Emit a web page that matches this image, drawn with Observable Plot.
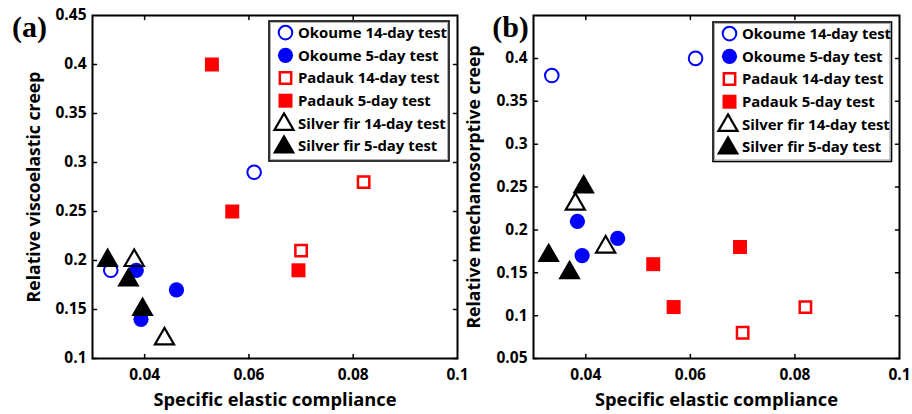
<!DOCTYPE html>
<html>
<head>
<meta charset="utf-8">
<script src="https://cdn.jsdelivr.net/npm/d3@7"></script>
<script src="https://cdn.jsdelivr.net/npm/@observablehq/plot@0.6"></script>
<style>
  html, body { margin: 0; padding: 0; background: white; }
  #wrap { position: relative; width: 912px; height: 414px; overflow: hidden; background: white; }
  #wrap > svg, #wrap > div { position: absolute; top: 0; }
</style>
</head>
<body>
<div id="wrap"></div>
<script>
// ---- Data ----
const seriesNames = ["Okoume 14-day test", "Okoume 5-day test", "Padauk 14-day test",
                     "Padauk 5-day test", "Silver fir 14-day test", "Silver fir 5-day test"];

const okoume14X = [0.0335, 0.061];
const okoume14Visco = [0.19, 0.29];
const okoume14Mecha = [0.38, 0.40];

const okoume5X = [0.0384, 0.0393, 0.0461];
const okoume5Visco = [0.19, 0.14, 0.17];
const okoume5Mecha = [0.21, 0.17, 0.19];

const padauk14X = [0.070, 0.082];
const padauk14Visco = [0.21, 0.28];
const padauk14Mecha = [0.08, 0.11];

const padauk5X = [0.0529, 0.0568, 0.0695];
const padauk5Visco = [0.40, 0.25, 0.19];
const padauk5Mecha = [0.16, 0.11, 0.18];

const silver14X = [0.038, 0.0438];
const silver14Visco = [0.20, 0.12];
const silver14Mecha = [0.23, 0.18];

const silver5X = [0.0329, 0.0369, 0.0396];
const silver5Visco = [0.20, 0.18, 0.15];
const silver5Mecha = [0.17, 0.15, 0.25];

const xTicks = [0.04, 0.06, 0.08, 0.1];
const xTickMarks = [0.04, 0.06, 0.08];
const yTicksA = [0.1, 0.15, 0.2, 0.25, 0.3, 0.35, 0.4, 0.45];
const yTicksB = [0.05, 0.1, 0.15, 0.2, 0.25, 0.3, 0.35, 0.4];

const panelLetters = ["(a)", "(b)"];
const xLabel = "Specific elastic compliance";
const yLabelA = "Relative viscoelastic creep";
const yLabelB = "Relative mechanosorptive creep";

// ---- Styles ----
const BLUE = "#0000ff", RED = "#ff0000", BLACK = "#000000";
const styles = [
  {symbol: "circle", fill: "none", stroke: BLUE, r: 6.8, strokeWidth: 2},
  {symbol: "circle", fill: BLUE, stroke: "none", r: 7.6},
  {symbol: "square", fill: "none", stroke: RED, r: 6.4, strokeWidth: 2.5},
  {symbol: "square", fill: RED, stroke: "none", r: 7.9},
  {symbol: "triangle", fill: "none", stroke: BLACK, r: 7.1, strokeWidth: 2.2},
  {symbol: "triangle", fill: BLACK, stroke: "none", r: 8.3}
];

const zip = (xs, ys) => xs.map((x, i) => ({x, y: ys[i]}));

const tickShape = {draw(ctx, l) { ctx.moveTo(0, 0); ctx.lineTo(0, -l); }};
const FONT = "Open Sans";

function panel({width, marginLeft, marginRight, yDomain, yTickLabels, yTickMarks, yLabel, yLabelDx, letterDx, letter, series}) {
  const marks = [];
  series.forEach((s, i) => {
    marks.push(Plot.dot(s, {x: "x", y: "y", ...styles[i]}));
  });
  const tk = {stroke: "black", strokeWidth: 1.5, length: 4, anchor: "start", shape: tickShape};
  marks.push(
    Plot.vector(xTickMarks, {x: d => d, frameAnchor: "bottom", rotate: 0, ...tk}),
    Plot.vector(xTickMarks, {x: d => d, frameAnchor: "top", rotate: 180, ...tk}),
    Plot.vector(yTickMarks, {y: d => d, frameAnchor: "left", rotate: 90, ...tk}),
    Plot.vector(yTickMarks, {y: d => d, frameAnchor: "right", rotate: -90, ...tk}),
    Plot.axisX({ticks: xTicks, tickSize: 0, tickPadding: 10, label: null, fontSize: 15.5, fontWeight: "bold",
                tickFormat: d => String(d)}),
    Plot.axisY({ticks: yTickLabels, tickSize: 0, tickPadding: 6, label: null, fontSize: 15.5, fontWeight: "bold",
                tickFormat: d => String(d)}),
    Plot.frame({stroke: "black", strokeWidth: 2}),
    Plot.text([xLabel], {frameAnchor: "bottom", textAnchor: "middle", lineAnchor: "middle", dy: 42,
                         fontSize: 18.3, fontWeight: "bold", fill: "black"}),
    Plot.text([yLabel], {frameAnchor: "left", textAnchor: "middle", lineAnchor: "middle", rotate: -90, dx: yLabelDx,
                         fontSize: 17.6, fontWeight: "bold", fill: "black"}),
    Plot.text([letter], {frameAnchor: "top-left", textAnchor: "middle", lineAnchor: "middle", dx: letterDx, dy: 12,
                         fontSize: 30, fontWeight: "bold", fontFamily: "Liberation Serif", fill: "black"})
  );
  return Plot.plot({
    width, height: 414,
    marginLeft, marginRight, marginTop: 15, marginBottom: 56,
    x: {domain: [0.03, 0.1]},
    y: {domain: yDomain},
    style: {fontFamily: FONT, fontWeight: "bold", background: "transparent", overflow: "visible", color: "black"},
    marks
  });
}

const wrap = document.getElementById("wrap");

const left = panel({
  width: 462, marginLeft: 92, marginRight: 5,
  yDomain: [0.1, 0.45], yTickLabels: yTicksA, yTickMarks: yTicksA.slice(0, -1),
  yLabel: yLabelA, yLabelDx: -58, letterDx: -63, letter: panelLetters[0],
  series: [zip(okoume14X, okoume14Visco), zip(okoume5X, okoume5Visco), zip(padauk14X, padauk14Visco),
           zip(padauk5X, padauk5Visco), zip(silver14X, silver14Visco), zip(silver5X, silver5Visco)]
});
left.style.left = "0px";
wrap.appendChild(left);

const right = panel({
  width: 456, marginLeft: 77, marginRight: 13,
  yDomain: [0.05, 0.45], yTickLabels: yTicksB, yTickMarks: yTicksB,
  yLabel: yLabelB, yLabelDx: -59, letterDx: -23, letter: panelLetters[1],
  series: [zip(okoume14X, okoume14Mecha), zip(okoume5X, okoume5Mecha), zip(padauk14X, padauk14Mecha),
           zip(padauk5X, padauk5Mecha), zip(silver14X, silver14Mecha), zip(silver5X, silver5Mecha)]
});
right.style.left = "456px";
wrap.appendChild(right);

// ---- Legends ----
function legend(left, top, w, h) {
  const svg = d3.create("svg")
    .attr("width", w + 4).attr("height", h + 4)
    .style("position", "absolute").style("left", (left - 2) + "px").style("top", (top - 2) + "px")
    .style("overflow", "visible");
  svg.append("rect").attr("x", 2).attr("y", 2).attr("width", w).attr("height", h)
    .attr("fill", "white").attr("stroke", "black").attr("stroke-width", 1.6);
  svg.append("rect").attr("x", 3.6).attr("y", 3.6).attr("width", w - 3.2).attr("height", h - 3.2)
    .attr("fill", "none").attr("stroke", "#9a9a9a").attr("stroke-width", 0.8);
  const symMap = {circle: d3.symbolCircle, square: d3.symbolSquare, triangle: d3.symbolTriangle};
  seriesNames.forEach((name, i) => {
    const st = styles[i];
    const cy = 2 + 11.6 + i * 22.7;
    const cx = 2 + (st.symbol === "triangle" ? 15 : 16.5);
    svg.append("path")
      .attr("d", d3.symbol(symMap[st.symbol], st.r * st.r * Math.PI)())
      .attr("transform", `translate(${cx},${cy + (st.symbol === "triangle" ? 1 : 0)})`)
      .attr("fill", st.fill).attr("stroke", st.stroke).attr("stroke-width", st.strokeWidth || 0);
    svg.append("text").attr("x", 2 + 29).attr("y", cy).attr("dy", "0.35em")
      .attr("font-family", FONT).attr("font-weight", "bold").attr("font-size", 14.9)
      .attr("fill", "black").text(name);
  });
  wrap.appendChild(svg.node());
}
legend(268.5, 20.8, 180, 140);
legend(712.7, 22.3, 178.5, 139.5);
</script>
</body>
</html>
